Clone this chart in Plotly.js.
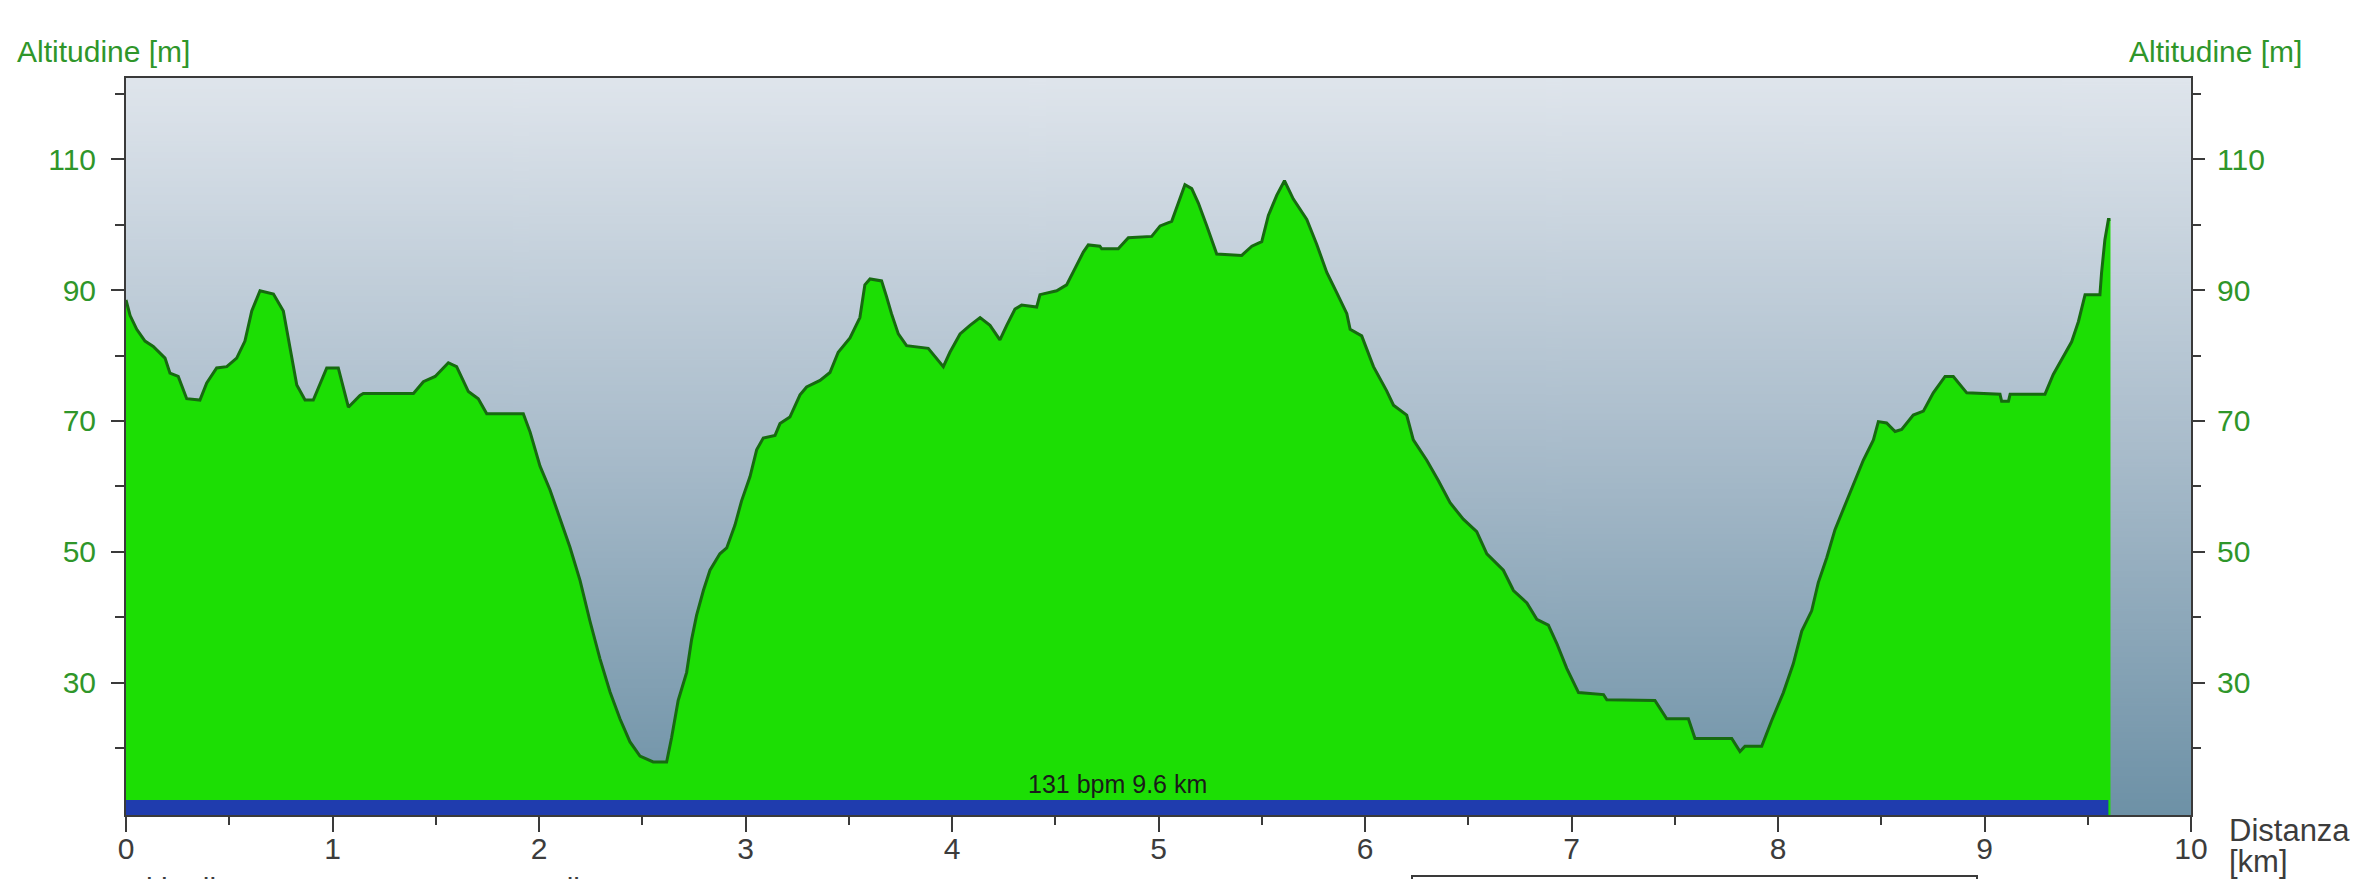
<!DOCTYPE html>
<html>
<head>
<meta charset="utf-8">
<script src="https://cdn.plot.ly/plotly-3.0.1.min.js"></script>
<style>
  html, body { margin: 0; padding: 0; background: #ffffff; }
  #chart { width: 2362px; height: 879px; }
</style>
</head>
<body>
<div id="chart"></div>
<script>
// ---------- DATA ----------
const distKm = [
  0.000, 0.020, 0.052, 0.092, 0.132, 0.189, 0.213, 0.253, 0.294, 0.358,
  0.391, 0.439, 0.488, 0.536, 0.576, 0.609, 0.649, 0.714, 0.762, 0.794,
  0.827, 0.867, 0.907, 0.972, 1.028, 1.077, 1.133, 1.149, 1.392, 1.440,
  1.497, 1.561, 1.601, 1.658, 1.706, 1.747, 1.924, 1.957, 2.005, 2.053,
  2.102, 2.150, 2.199, 2.247, 2.295, 2.344, 2.392, 2.440, 2.489, 2.553,
  2.618, 2.642, 2.674, 2.715, 2.739, 2.763, 2.796, 2.828, 2.876, 2.909,
  2.949, 2.981, 3.022, 3.054, 3.086, 3.143, 3.167, 3.215, 3.264, 3.296,
  3.361, 3.409, 3.449, 3.506, 3.554, 3.578, 3.603, 3.659, 3.683, 3.707,
  3.740, 3.780, 3.885, 3.926, 3.958, 3.990, 4.039, 4.087, 4.136, 4.184,
  4.232, 4.265, 4.305, 4.337, 4.410, 4.426, 4.507, 4.555, 4.595, 4.636,
  4.660, 4.716, 4.725, 4.805, 4.854, 4.967, 5.008, 5.064, 5.096, 5.128,
  5.161, 5.193, 5.234, 5.282, 5.403, 5.452, 5.500, 5.532, 5.573, 5.610,
  5.653, 5.718, 5.766, 5.815, 5.863, 5.912, 5.928, 5.984, 6.041, 6.105,
  6.138, 6.202, 6.234, 6.299, 6.355, 6.412, 6.476, 6.541, 6.590, 6.670,
  6.719, 6.784, 6.832, 6.888, 6.929, 6.977, 7.034, 7.155, 7.171, 7.404,
  7.461, 7.566, 7.598, 7.776, 7.816, 7.840, 7.921, 7.969, 8.026, 8.074,
  8.115, 8.163, 8.195, 8.236, 8.276, 8.316, 8.365, 8.413, 8.462, 8.486,
  8.526, 8.567, 8.599, 8.655, 8.704, 8.752, 8.809, 8.849, 8.914, 9.075,
  9.083, 9.116, 9.124, 9.293, 9.333, 9.366, 9.422, 9.455, 9.487, 9.559,
  9.567, 9.583, 9.600, 9.610
];
const altM = [
  88.5, 86.1, 84.0, 82.2, 81.4, 79.6, 77.3, 76.8, 73.4, 73.2,
  75.8, 78.1, 78.3, 79.6, 82.2, 86.8, 89.9, 89.4, 86.8, 81.2,
  75.5, 73.2, 73.2, 78.1, 78.1, 72.1, 73.9, 74.2, 74.2, 76.0,
  76.8, 78.9, 78.3, 74.5, 73.4, 71.1, 71.1, 68.3, 63.1, 59.5,
  54.9, 50.7, 45.6, 39.4, 33.7, 28.6, 24.5, 21.0, 18.8, 17.9,
  17.9, 21.6, 27.3, 31.6, 36.6, 40.3, 44.1, 47.2, 49.7, 50.6,
  54.1, 57.8, 61.5, 65.6, 67.4, 67.8, 69.6, 70.6, 74.0, 75.2,
  76.2, 77.4, 80.5, 82.7, 85.8, 90.8, 91.7, 91.4, 89.0, 86.4,
  83.3, 81.5, 81.1, 79.6, 78.3, 80.5, 83.3, 84.6, 85.8, 84.6,
  82.4, 84.6, 87.1, 87.7, 87.4, 89.3, 89.9, 90.8, 93.3, 95.8,
  96.9, 96.7, 96.3, 96.3, 98.0, 98.2, 99.8, 100.5, 103.3, 106.1,
  105.5, 103.3, 99.8, 95.5, 95.3, 96.7, 97.4, 101.4, 104.5, 106.7,
  103.9, 100.8, 97.0, 92.7, 89.6, 86.4, 84.0, 83.0, 78.3, 74.6,
  72.4, 70.9, 67.1, 64.0, 60.9, 57.5, 55.0, 53.1, 49.7, 47.2,
  44.1, 42.2, 39.7, 38.8, 36.0, 32.2, 28.5, 28.2, 27.4, 27.3,
  24.5, 24.5, 21.5, 21.5, 19.5, 20.3, 20.3, 24.2, 28.5, 32.9,
  37.9, 41.0, 45.3, 49.1, 53.4, 56.5, 60.3, 64.0, 67.1, 69.9,
  69.7, 68.4, 68.7, 70.9, 71.5, 74.3, 76.8, 76.8, 74.3, 74.1,
  73.0, 73.0, 74.1, 74.1, 77.1, 79.0, 82.1, 85.2, 89.3, 89.3,
  92.7, 97.7, 100.8, 100.8
];

// heart-rate zone bar
const hrZoneBpm = [131];
const hrZoneKm = [9.6];

// ticks
const xTickVals = [0, 1, 2, 3, 4, 5, 6, 7, 8, 9, 10];
const xTickText = ["0", "1", "2", "3", "4", "5", "6", "7", "8", "9", "10"];
const xMinorVals = [0.5, 1.5, 2.5, 3.5, 4.5, 5.5, 6.5, 7.5, 8.5, 9.5];
const yTickVals = [30, 50, 70, 90, 110];
const yTickText = ["30", "50", "70", "90", "110"];
const yMinorVals = [20, 40, 60, 80, 100, 120];

// text
const yTitleText = "Altitudine [m]";
const xTitleLine1 = "Distanza";
const xTitleLine2 = "[km]";
const belowTexts = ["Altitudine", "Salita"];

// ---------- LAYOUT GEOMETRY ----------
const W = 2362, H = 879;
const L = 126, R = 2191, T = 78, B = 815;
const PW = R - L, PH = B - T;
const px = x => (x - L) / PW;
const py = y => (B - y) / PH;
const yRange = [9.8, 122.4];
const xRange = [0, 10];
const FONT = "Liberation Sans, Arial, sans-serif";
const GREEN_TXT = "#2f962a";
const AX = "#3a3a3a";

// gradient background image (drawn on a canvas, no network)
function gradientURL() {
  const c = document.createElement("canvas");
  c.width = 8; c.height = 512;
  const g = c.getContext("2d");
  const grd = g.createLinearGradient(0, 0, 0, 512);
  grd.addColorStop(0, "#dfe5ec");
  grd.addColorStop(0.5, "#a9bccb");
  grd.addColorStop(1, "#6d91a6");
  g.fillStyle = grd;
  g.fillRect(0, 0, 8, 512);
  return c.toDataURL("image/png");
}

const profile = {
  type: "scatter",
  mode: "lines",
  x: distKm,
  y: altM,
  fill: "tozeroy",
  fillcolor: "#1cde04",
  line: { color: "#176a10", width: 3 },
  hoverinfo: "skip",
  showlegend: false,
  xaxis: "x",
  yaxis: "y"
};

const bandCenter = 10.95, bandWidth = 2.3;
const hrBar = {
  type: "bar",
  orientation: "h",
  x: hrZoneKm,
  base: hrZoneKm.map(() => 0),
  y: hrZoneKm.map(() => bandCenter),
  width: hrZoneKm.map(() => bandWidth),
  marker: { color: "#1f3cae", line: { width: 0 } },
  hoverinfo: "skip",
  showlegend: false,
  xaxis: "x",
  yaxis: "y2"
};

const axisFont = { family: FONT, size: 30, color: GREEN_TXT };

const layout = {
  width: W,
  height: H,
  margin: { l: L, r: W - R, t: T, b: H - B, pad: 0 },
  paper_bgcolor: "#ffffff",
  plot_bgcolor: "rgba(0,0,0,0)",
  showlegend: false,
  xaxis: {
    range: xRange,
    fixedrange: true,
    tickmode: "array",
    tickvals: xTickVals,
    ticktext: xTickText,
    ticks: "outside",
    ticklen: 15,
    tickwidth: 2,
    tickcolor: AX,
    minor: { tickmode: "array", tickvals: xMinorVals, ticks: "outside", ticklen: 8, tickwidth: 2, tickcolor: AX, showgrid: false },
    tickfont: { family: FONT, size: 30, color: "#3c3c3c" },
    ticklabelstandoff: -9,
    showgrid: false,
    zeroline: false,
    showline: true,
    linecolor: AX,
    linewidth: 2,
    mirror: true
  },
  yaxis: {
    range: yRange,
    fixedrange: true,
    tickmode: "array",
    tickvals: yTickVals,
    ticktext: yTickText,
    ticks: "outside",
    ticklen: 13,
    tickwidth: 2,
    tickcolor: AX,
    minor: { tickmode: "array", tickvals: yMinorVals, ticks: "outside", ticklen: 9, tickwidth: 2, tickcolor: AX, showgrid: false },
    tickfont: axisFont,
    ticklabelstandoff: 9,
    showgrid: false,
    zeroline: false,
    showline: true,
    linecolor: AX,
    linewidth: 2,
    mirror: true
  },
  yaxis2: {
    range: yRange,
    fixedrange: true,
    overlaying: "y",
    side: "right",
    tickmode: "array",
    tickvals: yTickVals,
    ticktext: yTickText,
    ticks: "outside",
    ticklen: 13,
    tickwidth: 2,
    tickcolor: AX,
    minor: { tickmode: "array", tickvals: yMinorVals, ticks: "outside", ticklen: 9, tickwidth: 2, tickcolor: AX, showgrid: false },
    tickfont: axisFont,
    ticklabelstandoff: 6,
    showgrid: false,
    zeroline: false,
    showline: false
  },
  images: [{
    source: gradientURL(),
    xref: "paper", yref: "paper",
    x: 0, y: 1, sizex: 1, sizey: 1,
    xanchor: "left", yanchor: "top",
    sizing: "stretch",
    layer: "below"
  }],
  annotations: [
    { text: yTitleText, xref: "paper", yref: "paper", x: px(15), y: py(52), xanchor: "left", yanchor: "middle",
      showarrow: false, font: { family: FONT, size: 30, color: GREEN_TXT } },
    { text: yTitleText, xref: "paper", yref: "paper", x: px(2304), y: py(52), xanchor: "right", yanchor: "middle",
      showarrow: false, font: { family: FONT, size: 30, color: GREEN_TXT } },
    { text: xTitleLine1, xref: "paper", yref: "paper", x: px(2227), y: py(830), xanchor: "left", yanchor: "middle",
      showarrow: false, font: { family: FONT, size: 31, color: "#3c3c3c" } },
    { text: xTitleLine2, xref: "paper", yref: "paper", x: px(2227), y: py(861), xanchor: "left", yanchor: "middle",
      showarrow: false, font: { family: FONT, size: 31, color: "#3c3c3c" } },
    // heart-rate zone label, centred on its bar
    { text: hrZoneBpm[0] + " bpm " + hrZoneKm[0] + " km", xref: "x", yref: "y2",
      x: hrZoneKm[0] / 2, y: bandCenter + bandWidth / 2, xanchor: "center", yanchor: "bottom",
      showarrow: false, font: { family: FONT, size: 25, color: "#1a1a1a" } },
    // texts below the chart, cut off by the picture edge as in the reference
    { text: belowTexts[0], xref: "paper", yref: "paper", x: px(124), y: py(870), xanchor: "left", yanchor: "top",
      showarrow: false, font: { family: FONT, size: 30, color: "#3c3c3c" } },
    { text: belowTexts[1], xref: "paper", yref: "paper", x: px(528), y: py(870), xanchor: "left", yanchor: "top",
      showarrow: false, font: { family: FONT, size: 30, color: "#3c3c3c" } }
  ],
  shapes: [
    { type: "rect", xref: "paper", yref: "paper", x0: px(1412), x1: px(1977), y0: py(876), y1: py(920),
      line: { color: "#3a3a3a", width: 2 }, fillcolor: "#ffffff", layer: "above" }
  ]
};

Plotly.newPlot("chart", [profile, hrBar], layout, { displayModeBar: false, staticPlot: true });
</script>
</body>
</html>
